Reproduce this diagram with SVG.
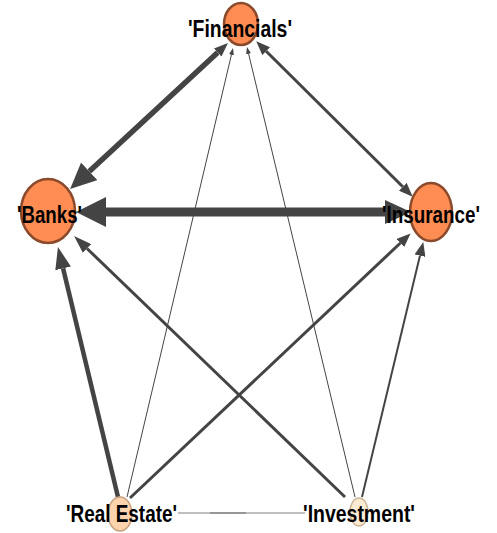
<svg xmlns="http://www.w3.org/2000/svg" width="497" height="533" viewBox="0 0 497 533">
<style>
.e{stroke:#444;fill:none;stroke-linecap:butt}
.big{fill:#FF8C52;stroke:#8B4A2B;stroke-width:2.5}
.lbl{font-family:"Liberation Sans",Arial,sans-serif;font-weight:bold;font-size:23px;fill:#000;text-anchor:middle}
</style>
<defs>
<marker id="aXL" markerUnits="userSpaceOnUse" markerWidth="30" markerHeight="30" refX="0" refY="15" orient="auto-start-reverse"><path d="M0,0 L30,15 L0,30 Z" fill="#444"/></marker>
<marker id="aL" markerUnits="userSpaceOnUse" markerWidth="26" markerHeight="24" refX="0" refY="12" orient="auto-start-reverse"><path d="M0,0 L26,12 L0,24 Z" fill="#444"/></marker>
<marker id="aM" markerUnits="userSpaceOnUse" markerWidth="22" markerHeight="16" refX="0" refY="8" orient="auto-start-reverse"><path d="M0,0 L22,8 L0,16 Z" fill="#444"/></marker>
<marker id="aMS" markerUnits="userSpaceOnUse" markerWidth="18" markerHeight="12" refX="0" refY="6" orient="auto-start-reverse"><path d="M0,0 L18,6 L0,12 Z" fill="#444"/></marker>
<marker id="aS" markerUnits="userSpaceOnUse" markerWidth="14" markerHeight="11" refX="0" refY="5.5" orient="auto-start-reverse"><path d="M0,0 L14,5.5 L0,11 Z" fill="#444"/></marker>
<marker id="aXS" markerUnits="userSpaceOnUse" markerWidth="7" markerHeight="5" refX="0" refY="2.5" orient="auto-start-reverse"><path d="M0,0 L7,2.5 L0,5 Z" fill="#444"/></marker>
</defs>
<g id="connectors">
<line class="e" x1="178" y1="513" x2="305" y2="513" style="stroke:#aaa;stroke-width:1.3"/>
<line class="e" x1="210" y1="513" x2="246" y2="513" style="stroke:#888;stroke-width:1.5"/>
<line class="e" x1="127" y1="497" x2="231.4" y2="54.8" style="stroke-width:1" marker-end="url(#aXS)"/>
<line class="e" x1="355" y1="497" x2="248.6" y2="53.8" style="stroke-width:1" marker-end="url(#aXS)"/>
<line class="e" x1="362" y1="497" x2="420" y2="255.6" style="stroke-width:2" marker-end="url(#aS)"/>
<line class="e" x1="130" y1="498" x2="400.4" y2="243" style="stroke-width:3" marker-end="url(#aS)"/>
<line class="e" x1="345" y1="497" x2="87" y2="248.5" style="stroke-width:3" marker-end="url(#aMS)"/>
<line class="e" x1="118" y1="497" x2="63.1" y2="268.4" style="stroke-width:4.5" marker-end="url(#aM)"/>
<line class="e" x1="266.2" y1="51.2" x2="402.8" y2="186.8" style="stroke-width:3" marker-start="url(#aS)" marker-end="url(#aS)"/>
<line class="e" x1="89.2" y1="171.4" x2="217.7" y2="52.5" style="stroke-width:5.5" marker-start="url(#aL)" marker-end="url(#aS)"/>
<line class="e" x1="106" y1="212" x2="385" y2="212" style="stroke-width:9" marker-start="url(#aXL)" marker-end="url(#aL)"/>
</g>
<g id="node-financials">
<ellipse class="big" cx="241" cy="24" rx="17" ry="21"/>
<text class="lbl" x="240" y="37" textLength="104" lengthAdjust="spacingAndGlyphs">'Financials'</text>
</g>
<g id="node-banks">
<ellipse class="big" cx="48" cy="211" rx="27" ry="32"/>
<text class="lbl" x="49.5" y="223" textLength="65" lengthAdjust="spacingAndGlyphs">'Banks'</text>
</g>
<g id="node-insurance">
<ellipse class="big" cx="431" cy="212" rx="21" ry="29"/>
<text class="lbl" x="431" y="223" textLength="98" lengthAdjust="spacingAndGlyphs">'Insurance'</text>
</g>
<g id="node-realestate">
<ellipse cx="120" cy="514" rx="12" ry="17" fill="#FDD3AE" stroke="#C9A27F" stroke-width="1.5"/>
<text class="lbl" x="121.5" y="522" textLength="111" lengthAdjust="spacingAndGlyphs">'Real Estate'</text>
</g>
<g id="node-investment">
<ellipse cx="359" cy="512" rx="9" ry="14" fill="#FCEBD3" stroke="#CBB596" stroke-width="1.5"/>
<text class="lbl" x="359" y="522" textLength="112" lengthAdjust="spacingAndGlyphs">'Investment'</text>
</g>
</svg>
